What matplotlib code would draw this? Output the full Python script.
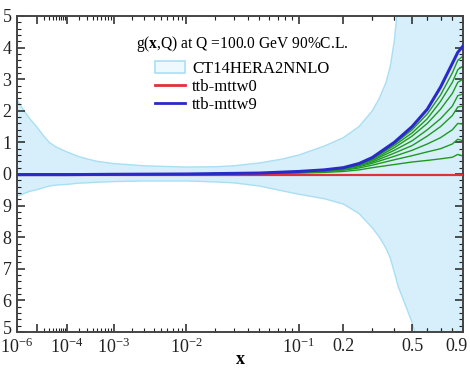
import numpy as np
import matplotlib
matplotlib.use("Agg")
from matplotlib import pyplot as plt
from matplotlib.patches import Patch
from matplotlib.lines import Line2D
from matplotlib.ticker import FixedLocator, FixedFormatter
from matplotlib.transforms import ScaledTranslation

plt.rcParams['font.family'] = ['Liberation Serif', 'DejaVu Serif']
plt.rcParams['mathtext.fontset'] = 'custom'
plt.rcParams['mathtext.rm'] = 'Liberation Serif'
plt.rcParams['mathtext.it'] = 'Liberation Serif:italic'
plt.rcParams['mathtext.bf'] = 'Liberation Serif:bold'

# 90% C.L. band of CT14HERA2NNLO (ratio to central)
band_x = [1e-6, 2e-6, 3e-6, 5e-6, 1e-5, 2e-5, 3e-5, 5e-5, 1e-4, 2e-4, 3e-4, 5e-4,
          1e-3, 3e-3, 1e-2, 2e-2, 3e-2, 0.05, 0.075, 0.1, 0.15, 0.2, 0.25, 0.3, 0.33,
          0.36, 0.38, 0.4, 0.41, 0.42, 0.45, 0.5, 0.55, 0.6, 0.7, 0.8, 0.9]
band_hi = [1.235, 1.21, 1.195, 1.175, 1.15, 1.118, 1.10, 1.085, 1.07, 1.055, 1.048, 1.04,
           1.033, 1.026, 1.022, 1.023, 1.026, 1.035, 1.047, 1.06, 1.088, 1.115, 1.15, 1.2,
           1.24, 1.29, 1.34, 1.42, 1.48, 1.55, 1.8, 2.2, 2.5, 2.8, 3.2, 3.5, 3.7]
band_lo = [0.93, 0.935, 0.94, 0.945, 0.95, 0.957, 0.962, 0.965, 0.967, 0.971, 0.972, 0.974,
           0.976, 0.978, 0.978, 0.975, 0.972, 0.962, 0.947, 0.936, 0.922, 0.905, 0.875, 0.83,
           0.80, 0.765, 0.735, 0.69, 0.668, 0.645, 0.6, 0.53, 0.44, 0.35, 0.25, 0.15, 0.1]

# ttb-mttw0 ... ttb-mttw9
curve_x = [1e-6, 1e-4, 1e-3, 1e-2, 0.05, 0.1, 0.15, 0.2, 0.25, 0.3, 0.4, 0.5, 0.6, 0.7,
           0.8, 0.85, 0.9]
mttw0 = [0.997, 0.997, 0.997, 0.997, 0.997, 0.997, 0.997, 0.997, 0.997, 0.997, 0.997,
         0.997, 0.997, 0.997, 0.997, 0.997, 0.997]
mttw9 = [0.998, 0.998, 0.999, 1.0, 1.003, 1.008, 1.013, 1.02, 1.033, 1.052, 1.10, 1.15,
         1.205, 1.275, 1.35, 1.385, 1.405]
mttw_green = [
    [1.0, 1.0, 1.0, 1.0, 1.003, 1.008, 1.013, 1.02, 1.032, 1.05, 1.095, 1.14, 1.19, 1.25, 1.32, 1.36, 1.373],
    [1.0, 1.0, 1.0, 1.0, 1.003, 1.007, 1.012, 1.019, 1.031, 1.048, 1.09, 1.13, 1.175, 1.23, 1.29, 1.33, 1.342],
    [1.0, 1.0, 1.0, 1.0, 1.003, 1.007, 1.012, 1.018, 1.03, 1.045, 1.083, 1.12, 1.16, 1.205, 1.255, 1.29, 1.30],
    [1.0, 1.0, 1.0, 1.0, 1.003, 1.007, 1.011, 1.017, 1.028, 1.042, 1.075, 1.105, 1.14, 1.175, 1.215, 1.248, 1.253],
    [1.0, 1.0, 1.0, 1.0, 1.002, 1.006, 1.01, 1.016, 1.026, 1.038, 1.066, 1.09, 1.12, 1.15, 1.185, 1.212, 1.215],
    [1.0, 1.0, 1.0, 1.0, 1.002, 1.005, 1.009, 1.014, 1.023, 1.034, 1.056, 1.075, 1.095, 1.115, 1.14, 1.16, 1.158],
    [1.0, 1.0, 1.0, 1.0, 1.002, 1.004, 1.007, 1.012, 1.019, 1.028, 1.045, 1.058, 1.07, 1.08, 1.095, 1.11, 1.105],
    [1.0, 1.0, 1.0, 1.0, 1.001, 1.003, 1.005, 1.008, 1.013, 1.02, 1.03, 1.038, 1.043, 1.048, 1.053, 1.062, 1.057],
]

x_major = [1e-6, 1e-5, 1e-4, 1e-3, 1e-2, 1e-1, 0.2, 0.5, 0.9]
x_major_labels = [r'$10^{-6}$', '', r'$10^{-4}$', r'$10^{-3}$', r'$10^{-2}$', r'$10^{-1}$',
                  '0.2', '0.5', '0.9']
y_major = [0.5, 0.6, 0.7, 0.8, 0.9, 1.0, 1.1, 1.2, 1.3, 1.4, 1.5]
# the reference is cropped on the left, only the last digit of each label shows
y_major_labels = ['5', '6', '7', '8', '9', '0', '1', '2', '3', '4', '5']

P = 0.19


def fwd(x):
    return np.power(np.clip(x, 1e-12, None), P)


def inv(y):
    return np.power(np.clip(y, 1e-12, None), 1.0 / P)


fig = plt.figure(figsize=(4.7, 3.68), dpi=100)
ax = fig.add_axes([17 / 470, 36 / 368, 446 / 470, 316 / 368])
ax.set_xscale('function', functions=(fwd, inv))

ax.fill_between(band_x, band_lo, band_hi, facecolor='#d6effb', edgecolor='#a9dff5',
                linewidth=1.0, zorder=1)
for g in mttw_green:
    ax.plot(curve_x, g, color='#1f9a1f', lw=1.0, zorder=2)
ax.plot(curve_x, mttw0, color='#e0303a', lw=1.6, zorder=3)
ax.plot(curve_x, mttw9, color='#2a2ac8', lw=2.2, zorder=4)

ax.set_xlim(1e-6, 0.9)
ax.set_ylim(0.5, 1.5)

minor_x = [m * 10.0 ** e for e in range(-5, 0) for m in range(2, 10)]
minor_x += [0.3, 0.4, 0.6, 0.7, 0.8]
ax.xaxis.set_major_locator(FixedLocator(x_major))
ax.xaxis.set_major_formatter(FixedFormatter(x_major_labels))
ax.xaxis.set_minor_locator(FixedLocator(minor_x))
ax.yaxis.set_major_locator(FixedLocator(y_major))
ax.yaxis.set_major_formatter(FixedFormatter(y_major_labels))
ax.yaxis.set_minor_locator(FixedLocator(np.arange(0.5, 1.5001, 0.02)))

ax.tick_params(which='both', direction='in', top=True, right=True, colors='#222222')
ax.tick_params(which='major', length=6, width=1.1, labelsize=13, pad=3)
ax.tick_params(axis='x', which='major', pad=4)
ax.tick_params(axis='y', which='major', pad=4)
ax.tick_params(which='minor', length=3, width=0.8)
for s in ax.spines.values():
    s.set_linewidth(1.4)
    s.set_color('#444444')

# nudge the corner labels so they stay inside the picture and apart
last = ax.xaxis.get_major_ticks()[-1].label1
last.set_transform(last.get_transform() + ScaledTranslation(-6 / 100, 0, fig.dpi_scale_trans))
first_y = ax.yaxis.get_major_ticks()[0].label1
first_y.set_transform(first_y.get_transform() + ScaledTranslation(0, 4 / 100, fig.dpi_scale_trans))

ax.set_xlabel('x', fontsize=13, fontweight='bold', labelpad=-4)

handles = [Patch(facecolor='#eef9fe', edgecolor='#a9dff5', linewidth=1.2),
           Line2D([], [], color='#e0303a', lw=2),
           Line2D([], [], color='#2a2ac8', lw=2)]
leg = ax.legend(handles, ['CT14HERA2NNLO', 'ttb-mttw0', 'ttb-mttw9'],
                title=r'g($\mathbf{x}$,Q) at Q =100.0 GeV 90%C.L.',
                loc='upper center', bbox_to_anchor=(0.505, 0.975), frameon=False,
                fontsize=12, title_fontsize=11.2, handlelength=1.8,
                handletextpad=0.4, labelspacing=0.12, borderpad=0.1)
leg._legend_box.align = 'center'
leg._legend_box.sep = 5

fig.savefig('out.png', dpi=100)
